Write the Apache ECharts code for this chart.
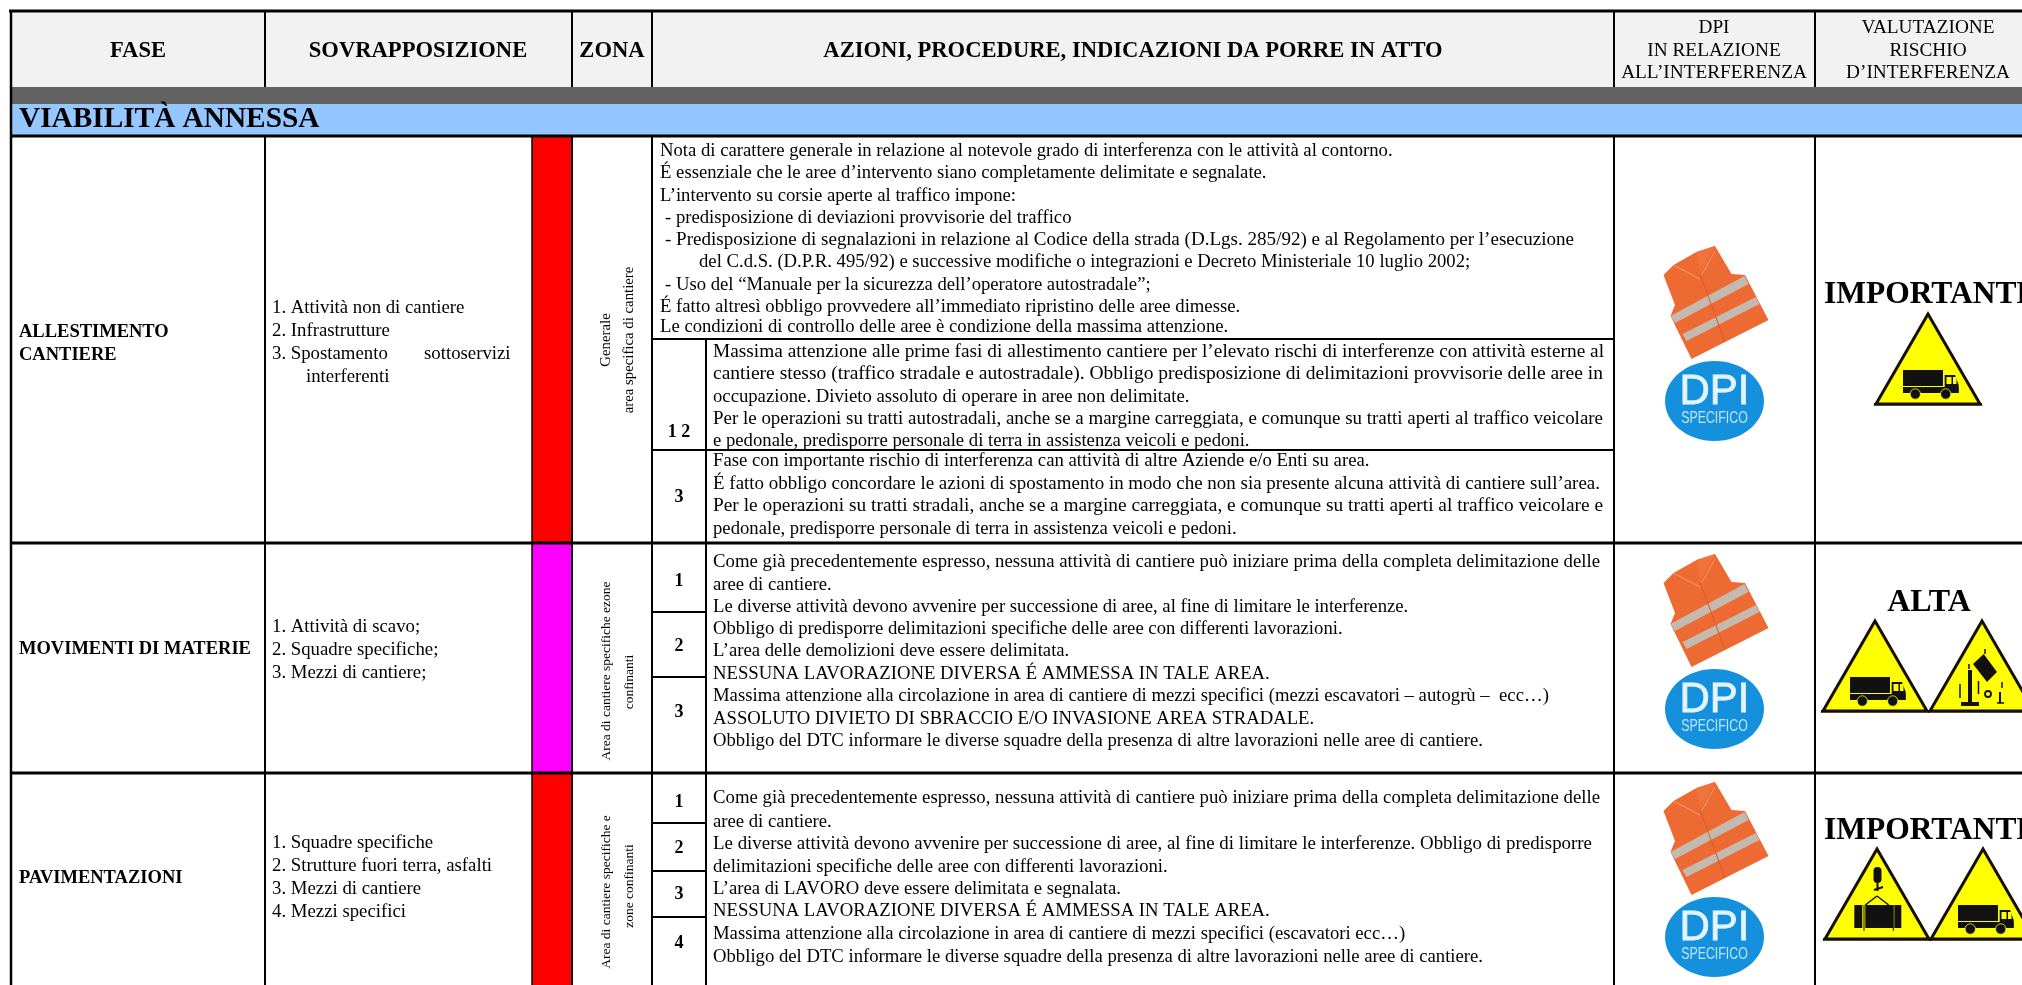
<!DOCTYPE html>
<html>
<head>
<meta charset="utf-8">
<title>Viabilità annessa</title>
<script src="https://cdn.jsdelivr.net/npm/echarts@6/dist/echarts.min.js"></script>
<style>
  html, body { margin: 0; padding: 0; background: #fff; overflow: hidden; }
  #main { width: 2022px; height: 985px; }
</style>
</head>
<body>
<div id="main"></div>
<script>
// testi della tabella
const headBold = ['FASE', 'SOVRAPPOSIZIONE', 'ZONA', 'AZIONI, PROCEDURE, INDICAZIONI DA PORRE IN ATTO'];
const headDpi = ['DPI', 'IN RELAZIONE', 'ALL’INTERFERENZA'];
const headRischio = ['VALUTAZIONE', 'RISCHIO', 'D’INTERFERENZA'];
const sectionTitle = 'VIABILITÀ ANNESSA';
const fasi = ['ALLESTIMENTO', 'CANTIERE', 'MOVIMENTI DI MATERIE', 'PAVIMENTAZIONI'];
const sovrapposizioni = [
  '1. Attività non di cantiere', '2. Infrastrutture', '3. Spostamento', 'sottoservizi', 'interferenti',
  '1. Attività di scavo;', '2. Squadre specifiche;', '3. Mezzi di cantiere;',
  '1. Squadre specifiche', '2. Strutture fuori terra, asfalti', '3. Mezzi di cantiere', '4. Mezzi specifici'
];
const zone = [
  'Generale', 'area specifica di cantiere',
  'Area di cantiere specifiche ezone', 'confinanti',
  'Area di cantiere specifiche e', 'zone confinanti'
];
const numeri = ['1 2', '3', '1', '2', '3', '1', '2', '3', '4'];
const notaGenerale = [
  'Nota di carattere generale in relazione al notevole grado di interferenza con le attività al contorno.',
  'É essenziale che le aree d’intervento siano completamente delimitate e segnalate.',
  'L’intervento su corsie aperte al traffico impone:',
  '- predisposizione di deviazioni provvisorie del traffico',
  '- Predisposizione di segnalazioni in relazione al Codice della strada (D.Lgs. 285/92) e al Regolamento per l’esecuzione',
  'del C.d.S. (D.P.R. 495/92) e successive modifiche o integrazioni e Decreto Ministeriale 10 luglio 2002;',
  '- Uso del “Manuale per la sicurezza dell’operatore autostradale”;',
  'É fatto altresì obbligo provvedere all’immediato ripristino delle aree dimesse.',
  'Le condizioni di controllo delle aree è condizione della massima attenzione.'
];
const azioni = [
  'Massima attenzione alle prime fasi di allestimento cantiere per l’elevato rischi di interferenze con attività esterne al',
  'cantiere stesso (traffico stradale e autostradale). Obbligo predisposizione di delimitazioni provvisorie delle aree in',
  'occupazione. Divieto assoluto di operare in aree non delimitate.',
  'Per le operazioni su tratti autostradali, anche se a margine carreggiata, e comunque su tratti aperti al traffico veicolare',
  'e pedonale, predisporre personale di terra in assistenza veicoli e pedoni.',
  'Fase con importante rischio di interferenza can attività di altre Aziende e/o Enti su area.',
  'É fatto obbligo concordare le azioni di spostamento in modo che non sia presente alcuna attività di cantiere sull’area.',
  'Per le operazioni su tratti stradali, anche se a margine carreggiata, e comunque su tratti aperti al traffico veicolare e',
  'pedonale, predisporre personale di terra in assistenza veicoli e pedoni.',
  'Come già precedentemente espresso, nessuna attività di cantiere può iniziare prima della completa delimitazione delle',
  'aree di cantiere.',
  'Le diverse attività devono avvenire per successione di aree, al fine di limitare le interferenze.',
  'Obbligo di predisporre delimitazioni specifiche delle aree con differenti lavorazioni.',
  'L’area delle demolizioni deve essere delimitata.',
  'NESSUNA LAVORAZIONE DIVERSA É AMMESSA IN TALE AREA.',
  'Massima attenzione alla circolazione in area di cantiere di mezzi specifici (mezzi escavatori – autogrù –  ecc…)',
  'ASSOLUTO DIVIETO DI SBRACCIO E/O INVASIONE AREA STRADALE.',
  'Obbligo del DTC informare le diverse squadre della presenza di altre lavorazioni nelle aree di cantiere.',
  'Come già precedentemente espresso, nessuna attività di cantiere può iniziare prima della completa delimitazione delle',
  'aree di cantiere.',
  'Le diverse attività devono avvenire per successione di aree, al fine di limitare le interferenze. Obbligo di predisporre',
  'delimitazioni specifiche delle aree con differenti lavorazioni.',
  'L’area di LAVORO deve essere delimitata e segnalata.',
  'NESSUNA LAVORAZIONE DIVERSA É AMMESSA IN TALE AREA.',
  'Massima attenzione alla circolazione in area di cantiere di mezzi specifici (escavatori ecc…)',
  'Obbligo del DTC informare le diverse squadre della presenza di altre lavorazioni nelle aree di cantiere.'
];
const rischi = ['IMPORTANTE', 'ALTA', 'IMPORTANTE'];
const dpiLabel = ['DPI', 'SPECIFICO'];

// griglia della pagina: le colonne e le righe della tabella
const W = 2022, H = 985;
const colX = { left: 11, fase: 265, bar: 532, sov: 572, zona: 652, num: 706, azioni: 1614, dpi: 1815 };
const rowY = { top: 11, head: 87, band: 104, blue: 136, nota: 339, sub12: 450, r1: 543, r2: 773 };
const serif = '"Liberation Serif", "Times New Roman", serif';
const sans = '"Liberation Sans", Arial, sans-serif';

const fills = [
  [colX.left, rowY.top, W, rowY.head, '#f2f2f2'],
  [colX.left, rowY.head, W, rowY.band, '#626262'],
  [colX.left, rowY.band, W, rowY.blue, '#94c7ff'],
  [colX.bar, rowY.blue, colX.sov, rowY.r1, '#ff0000'],
  [colX.bar, rowY.r1, colX.sov, rowY.r2, '#ff00ff'],
  [colX.bar, rowY.r2, colX.sov, H, '#ff0000']
];

const rules = [
  [9, rowY.top, W, rowY.top, 3],
  [colX.left, rowY.top, colX.left, H, 2.5],
  [colX.left, rowY.blue, W, rowY.blue, 3],
  [colX.left, rowY.r1, W, rowY.r1, 3],
  [colX.left, rowY.r2, W, rowY.r2, 3],
  [colX.bar, rowY.blue, colX.bar, H, 1.5],
  [colX.zona, rowY.nota, colX.azioni, rowY.nota, 2],
  [colX.zona, rowY.sub12, colX.azioni, rowY.sub12, 2],
  [colX.num, rowY.nota, colX.num, H, 2],
  [colX.zona, 612, colX.num, 612, 2],
  [colX.zona, 677, colX.num, 677, 2],
  [colX.zona, 823, colX.num, 823, 2],
  [colX.zona, 871, colX.num, 871, 2],
  [colX.zona, 917, colX.num, 917, 2]
];
[colX.fase, colX.sov, colX.zona, colX.azioni, colX.dpi].forEach(x => {
  rules.push([x, rowY.top, x, rowY.head, 2]);
  rules.push([x, rowY.blue, x, H, 2]);
});

// etichette: ogni riga e' [x, y, testo, font, allineamento, rotazione, xFine]
const labels = [];
function put(x, y, text, font, align, rot, endX) {
  labels.push({ x, y, text, font, align: align || 'left', rot: rot || 0, endX: endX || 0 });
}
const fBody = '18.7px ' + serif;
const fList = '18.8px ' + serif;
const fHead = 'bold 22.6px ' + serif;

[138, 418, 612, 1133].forEach((x, i) => put(x, 51, headBold[i], fHead, 'center'));
[28, 51, 73].forEach((y, i) => {
  put(1714, y, headDpi[i], '19.3px ' + serif, 'center');
  put(1928, y, headRischio[i], '19.3px ' + serif, 'center');
});
put(19, 119, sectionTitle, 'bold 29.3px ' + serif);

[[19, 332], [19, 355], [19, 649], [19, 878]].forEach((p, i) => put(p[0], p[1], fasi[i], 'bold 18.5px ' + serif));

[[272, 308], [272, 331], [272, 354], [424, 354], [306, 377],
 [272, 627], [272, 650], [272, 673],
 [272, 843], [272, 866], [272, 889], [272, 912]].forEach((p, i) => put(p[0], p[1], sovrapposizioni[i], fList));

[[606, 340], [629, 340], [606, 671], [629, 682], [606, 892], [629, 886]].forEach((p, i) => {
  put(p[0], p[1], zone[i], (i < 2 ? '14.8px ' : '13.5px ') + serif, 'center', Math.PI / 2);
});

[432, 497, 581, 646, 712, 802, 848, 894, 943].forEach((y, i) => put(679, y, numeri[i], 'bold 18px ' + serif, 'center'));

const notaX = [660, 660, 660, 665, 665, 699, 665, 660, 660];
[151, 173, 196, 218, 240, 262, 285, 307, 327].forEach((y, i) => put(notaX[i], y, notaGenerale[i], fBody, 'left', 0, i === 4 ? 1574 : 0));

const azioniY = [352, 374, 397, 419, 441, 461, 484, 506, 529,
  562, 585, 607, 629, 651, 674, 696, 719, 741,
  798, 822, 844, 867, 889, 911, 934, 957];
// righe giustificate a destra nel riquadro
const azioniFine = { 0: 1604, 1: 1603, 3: 1603, 6: 1600, 7: 1603, 9: 1600, 18: 1600, 20: 1592 };
azioniY.forEach((y, i) => put(713, y, azioni[i], fBody, 'left', 0, azioniFine[i]));

[[1824, 295], [1929, 603], [1824, 831]].forEach((p, i) => {
  put(p[0], p[1], rischi[i], (i === 1 ? 'bold 32px ' : 'bold 31.5px ') + serif, i === 1 ? 'center' : 'left');
});

// pittogrammi: [x, y, tipo]; tipo 0 gilet+DPI, 1 camion, 2 caduta materiali, 3 carichi sospesi
const icons = [
  [1714.5, 401, 0], [1714.5, 709, 0], [1714.5, 937, 0],
  [1928, 313, 1],
  [1875, 620, 1], [1982, 620, 2],
  [1877, 848, 3], [1983, 848, 1]
];

const measure = document.createElement('canvas').getContext('2d');

function poly(points, fill, extra) {
  return Object.assign({ type: 'polygon', shape: { points }, style: { fill } }, extra);
}
function box(x, y, width, height, fill) {
  return { type: 'rect', shape: { x, y, width, height }, style: { fill } };
}
function seg(x1, y1, x2, y2, stroke, lineWidth) {
  return { type: 'line', shape: { x1, y1, x2, y2 }, style: { stroke, lineWidth } };
}
function circle(cx, cy, r, fill, stroke, lineWidth) {
  return { type: 'circle', shape: { cx, cy, r }, style: { fill, stroke, lineWidth: lineWidth || 0 } };
}

function vestDpi() {
  return [
    poly([[-18, -149], [0.5, -155], [17, -127], [30.5, -126], [54, -81], [-23, -42], [-44, -85], [-39.5, -96], [-51, -126], [-41, -136]], '#ee6a33'),
    poly([[-18, -149], [0.5, -155], [-14.5, -127]], '#f0733c'),
    poly([[-44, -85], [-39.5, -78], [34, -117], [30, -125]], '#c3b9ae'),
    poly([[-32, -67], [-28, -60], [45, -97], [41.5, -104]], '#c3b9ae'),
    seg(-14.5, -127, 10.5, -59, '#d85a28', 1),
    seg(-41, -136, -14.5, -122, '#f59a72', 1),
    seg(0.5, -150, -13, -126, '#f59a72', 1),
    { type: 'ellipse', shape: { cx: 0, cy: 0, rx: 49.5, ry: 40 }, style: { fill: '#1590dd' } },
    { type: 'text', x: 0, y: -9, style: { text: dpiLabel[0], font: '42px ' + sans, fill: '#e3f4fb', stroke: '#e3f4fb', lineWidth: 0.8, align: 'center', verticalAlign: 'middle' } },
    { type: 'text', x: 0, y: 17, scaleX: 0.75, style: { text: dpiLabel[1], font: '16.5px ' + sans, fill: '#bfe6f6', align: 'center', verticalAlign: 'middle' } }
  ];
}
function triangle() {
  return [
    poly([[0, 1], [-52, 91], [52, 91]], '#ffff00', { style: { fill: '#ffff00', stroke: '#171000', lineWidth: 3, lineJoin: 'miter' } }),
    box(-54, 90, 108, 2.5, '#171000')
  ];
}
function truck() {
  return [
    box(-25, 57, 40, 16, '#111'),
    box(-25, 74, 55.5, 6, '#111'),
    poly([[16.7, 62], [27, 62], [30.7, 72], [30.7, 80], [16.7, 80]], '#111'),
    box(18.5, 64, 5, 7, '#ffff00'),
    box(25, 64, 3.5, 7, '#ffff00'),
    circle(-12.7, 81, 5.2, '#111', '#ffff00', 0.8),
    circle(17.7, 81, 5.2, '#111', '#ffff00', 0.8)
  ];
}
function fallingLoad() {
  return [
    poly([[-9, 44], [1.7, 34], [15, 52], [5, 62]], '#111'),
    box(-14, 50, 4, 32, '#111'),
    box(-21, 82, 18, 4, '#111'),
    seg(-22, 64, -22, 78, '#111', 1.5),
    seg(-3.5, 61, -3.5, 74, '#111', 1.5),
    seg(3, 29, 3, 34, '#111', 1.5),
    seg(-13, 44, -13, 49, '#111', 1.5),
    seg(20, 62, 20, 68, '#111', 1.5),
    seg(18, 72, 18, 83, '#111', 2),
    seg(15, 83, 22, 83, '#111', 1.5),
    circle(6, 74, 3, 'none', '#111', 1.8)
  ];
}
function suspendedLoad() {
  return [
    { type: 'rect', shape: { x: -3.5, y: 19, width: 8, height: 16, r: 4 }, style: { fill: '#111' } },
    seg(0.5, 35, 0.5, 43, '#111', 2),
    seg(-3, 42, 6, 39, '#111', 2),
    seg(0, 48, -11.7, 57, '#111', 1.5),
    seg(0, 48, 11.7, 57, '#111', 1.5),
    box(-11.7, 57, 27.7, 23, '#111'),
    box(-22.7, 57, 8, 23, '#111'),
    box(17.3, 57, 7, 23, '#111'),
    box(-13.5, 57, 1, 26, '#111'),
    box(15.8, 57, 1, 26, '#111')
  ];
}
function iconChildren(kind) {
  if (kind === 0) return vestDpi();
  if (kind === 1) return triangle().concat(truck());
  if (kind === 2) return triangle().concat(fallingLoad());
  return triangle().concat(suspendedLoad());
}

const option = {
  animation: false,
  grid: { left: 0, right: 0, top: 0, bottom: 0 },
  xAxis: { type: 'value', min: 0, max: W, show: false },
  yAxis: { type: 'value', min: 0, max: H, inverse: true, show: false },
  tooltip: { show: false },
  series: [
    {
      type: 'custom',
      name: 'campiture',
      clip: false,
      silent: true,
      data: fills.map(f => f.slice(0, 4)),
      renderItem: (params, api) => {
        const a = api.coord([api.value(0), api.value(1)]);
        const b = api.coord([api.value(2), api.value(3)]);
        return {
          type: 'rect',
          shape: { x: a[0], y: a[1], width: b[0] - a[0], height: b[1] - a[1] },
          style: { fill: fills[params.dataIndex][4] }
        };
      }
    },
    {
      type: 'custom',
      name: 'pittogrammi',
      clip: false,
      silent: true,
      data: icons,
      renderItem: (params, api) => {
        const p = api.coord([api.value(0), api.value(1)]);
        return { type: 'group', x: p[0], y: p[1], children: iconChildren(api.value(2)) };
      }
    },
    {
      type: 'custom',
      name: 'linee',
      clip: false,
      silent: true,
      data: rules,
      renderItem: (params, api) => {
        const a = api.coord([api.value(0), api.value(1)]);
        const b = api.coord([api.value(2), api.value(3)]);
        return {
          type: 'line',
          shape: { x1: a[0], y1: a[1], x2: b[0], y2: b[1] },
          style: { stroke: '#000', lineWidth: api.value(4) }
        };
      }
    },
    {
      type: 'custom',
      name: 'testi',
      clip: false,
      silent: true,
      data: labels.map(l => [l.x, l.y]),
      renderItem: (params, api) => {
        const l = labels[params.dataIndex];
        const p = api.coord([api.value(0), api.value(1)]);
        let scaleX = 1;
        if (l.endX) {
          measure.font = l.font;
          scaleX = (l.endX - l.x) / measure.measureText(l.text).width;
        }
        return {
          type: 'text',
          x: p[0],
          y: p[1],
          rotation: l.rot,
          scaleX,
          style: { text: l.text, font: l.font, fill: '#000', align: l.align, verticalAlign: 'middle' }
        };
      }
    }
  ]
};

const myChart = echarts.init(document.getElementById('main'), null, { renderer: 'canvas' });
myChart.setOption(option);
</script>
</body>
</html>
